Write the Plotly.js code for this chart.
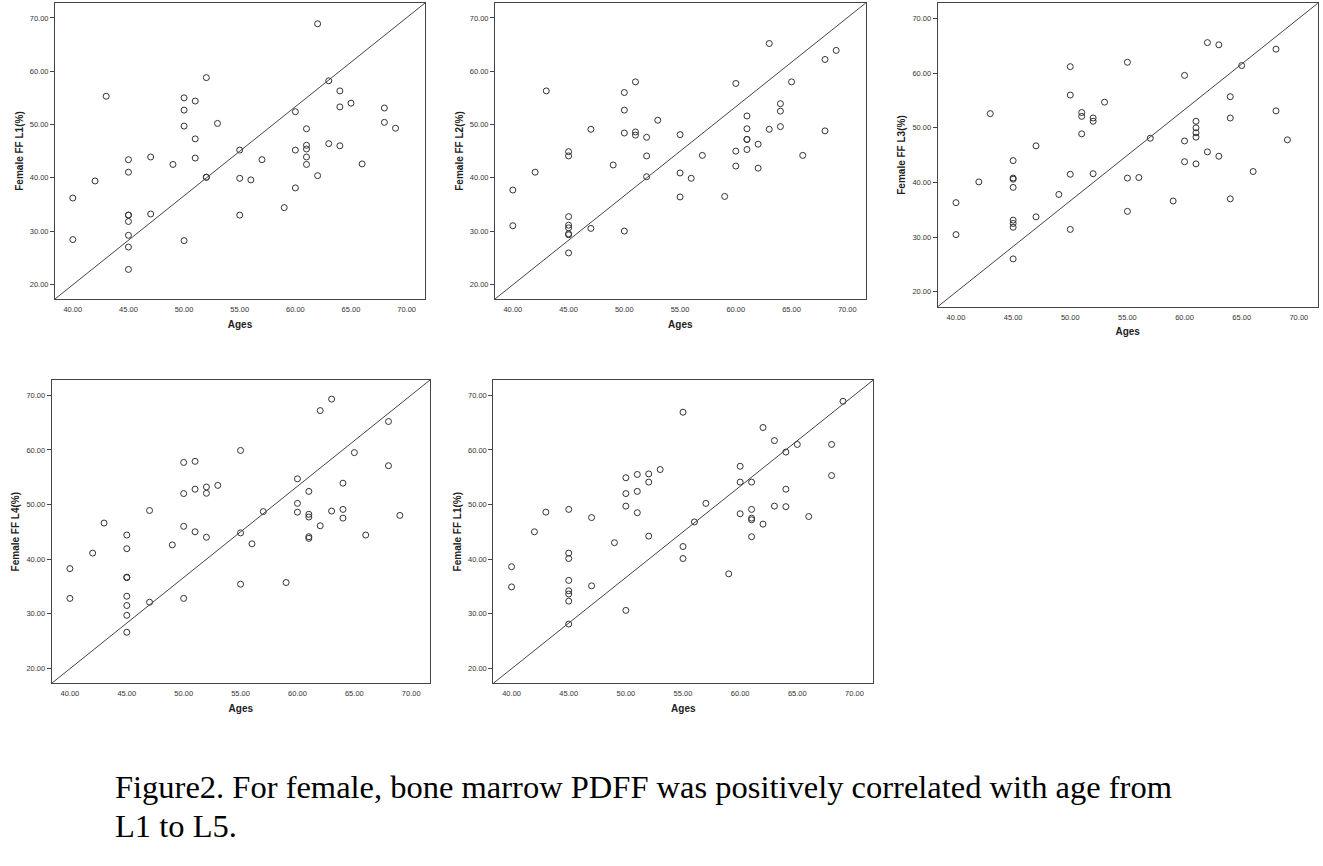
<!DOCTYPE html>
<html>
<head>
<meta charset="utf-8">
<script src="https://cdn.plot.ly/plotly-3.0.1.min.js"></script>
<style>
  html, body { margin: 0; padding: 0; background: #fff; }
  #chart { width: 1323px; height: 866px; }
</style>
</head>
<body>
<div id="chart"></div>
<script>
// ---- Data ----
var panelTitles = ["Female FF L1(%)", "Female FF L2(%)", "Female FF L3(%)", "Female FF L4(%)", "Female FF L1(%)"];
var xTitle = "Ages";
var xTicks = [40, 45, 50, 55, 60, 65, 70];
var yTicks = [20, 30, 40, 50, 60, 70];

var agesA = [40,40,42,43,45,45,45,45,45,45,45,45,47,47,49,50,50,50,50,51,51,51,52,52,52,53,55,55,55,56,57,59,60,60,60,61,61,61,61,61,62,62,63,63,64,64,64,65,66,68,68,69];
var ffA   = [36.2,28.4,39.4,55.3,43.4,41.05,33.0,33.0,31.8,29.2,27.0,22.8,43.9,33.2,42.5,55.0,52.7,49.7,28.2,54.4,47.3,43.7,58.8,40.1,40.1,50.2,45.2,39.9,33.0,39.6,43.4,34.4,52.4,45.2,38.1,49.2,46.1,45.4,43.9,42.5,68.9,40.4,58.2,46.4,56.3,53.3,46.0,54.0,42.6,53.1,50.4,49.3];

var agesB = [40,40,42,43,45,45,45,45,45,45,45,45,47,47,49,50,50,50,50,51,51,51,52,52,52,53,55,55,55,56,57,59,60,60,60,61,61,61,61,61,62,62,63,63,64,64,64,65,66,68,68,69];
var ffB   = [37.7,31.0,41.05,56.3,44.9,44.1,32.7,31.1,30.6,29.5,29.3,25.9,49.1,30.5,42.4,56.0,52.7,48.4,30.0,58.0,48.6,48.0,47.6,44.1,40.2,50.8,48.1,40.9,36.4,39.9,44.2,36.5,57.7,45.0,42.2,51.6,49.2,47.2,47.2,45.3,46.3,41.8,65.2,49.1,53.9,52.5,49.6,58.0,44.2,62.2,48.8,63.9];

var agesC = [40,40,42,43,45,45,45,45,45,45,45,45,47,47,49,50,50,50,50,51,51,51,52,52,52,53,55,55,55,56,57,59,60,60,60,61,61,61,61,61,62,62,63,63,64,64,64,65,66,68,68,69];
var ffC   = [36.3,30.45,40.1,52.6,44.0,40.8,40.6,39.1,33.1,32.5,31.8,26.0,46.7,33.7,37.8,61.2,56.0,41.5,31.4,52.8,52.1,48.9,51.8,51.2,41.6,54.7,62.0,40.8,34.7,40.9,48.1,36.6,59.6,47.6,43.8,51.2,50.0,49.1,48.3,43.4,65.6,45.6,65.2,44.8,55.7,51.8,37.0,61.4,42.0,64.4,53.1,47.8];

var agesD = [40,40,42,43,45,45,45,45,45,45,45,45,47,47,49,50,50,50,50,51,51,51,52,52,52,53,55,55,55,56,57,59,60,60,60,61,61,61,61,61,62,62,63,63,64,64,64,65,66,68,68,69];
var ffD   = [38.25,32.8,41.1,46.6,44.4,41.9,36.7,36.6,33.2,31.5,29.7,26.6,48.9,32.1,42.6,57.7,52.0,46.0,32.8,57.9,52.8,45.0,53.2,52.05,44.0,53.5,59.9,44.8,35.4,42.8,48.7,35.7,54.7,50.2,48.6,52.4,48.2,47.7,44.1,43.8,67.2,46.1,69.3,48.8,53.9,49.1,47.5,59.5,44.4,65.2,57.1,48.0];

var agesE = [40,40,42,43,45,45,45,45,45,45,45,45,47,47,49,50,50,50,50,51,51,51,52,52,52,53,55,55,55,56,57,59,60,60,60,61,61,61,61,61,62,62,63,63,64,64,64,65,66,68,68,69];
var ffE   = [38.6,34.9,45.0,48.6,49.1,41.1,40.1,36.1,34.2,33.6,32.3,28.1,47.6,35.1,43.0,54.9,52.0,49.7,30.6,55.5,52.4,48.5,55.6,54.1,44.2,56.4,66.9,42.3,40.1,46.8,50.2,37.3,57.0,54.1,48.3,54.1,49.1,47.5,47.2,44.1,64.1,46.4,61.7,49.7,59.6,52.8,49.6,61.0,47.8,61.0,55.3,68.9];

var captionLine1 = "Figure2. For female, bone marrow PDFF was positively correlated with age from";
var captionLine2 = "L1 to L5.";

// ---- Layout geometry (pixels of the 1323x866 page) ----
var W = 1323, H = 866;
var boxes = [
  {l: 55,    r: 425,   t: 3,   b: 299},
  {l: 495,   r: 865.7, t: 3,   b: 299},
  {l: 937.7, r: 1317.7,t: 3.3, b: 306.7},
  {l: 51.7,  r: 430,   t: 380, b: 683.3},
  {l: 493.3, r: 873.3, t: 380, b: 683.3}
];
var xs = [agesA, agesB, agesC, agesD, agesE];
var ys = [ffA, ffB, ffC, ffD, ffE];

var xRange = [38.4, 71.65];
var yRange = [17.25, 72.8];
var ink = '#333333';

var traces = [];
var layout = {
  width: W, height: H,
  margin: {l: 0, r: 0, t: 0, b: 0},
  paper_bgcolor: '#ffffff',
  plot_bgcolor: '#ffffff',
  showlegend: false,
  font: {family: 'Liberation Sans, Arial, sans-serif', color: ink},
  shapes: [],
  annotations: []
};

for (var i = 0; i < 5; i++) {
  var sfx = i === 0 ? '' : String(i + 1);
  var bx = boxes[i];
  traces.push({
    type: 'scatter', mode: 'markers',
    x: xs[i], y: ys[i],
    xaxis: 'x' + sfx, yaxis: 'y' + sfx,
    marker: {symbol: 'circle-open', size: 6, color: ink, line: {width: 1, color: ink}},
    hoverinfo: 'x+y'
  });
  layout['xaxis' + sfx] = {
    domain: [bx.l / W, bx.r / W],
    anchor: 'y' + sfx,
    range: xRange,
    tickvals: xTicks,
    tickformat: '.2f',
    ticks: 'outside', ticklen: 3, tickcolor: 'rgba(0,0,0,0)',
    tickfont: {size: 7.5, color: ink, family: 'Liberation Sans, Arial, sans-serif'},
    showgrid: false, zeroline: false,
    showline: true, mirror: true, linecolor: '#444', linewidth: 1,
    title: {text: '<b>' + xTitle + '</b>', font: {size: 10, color: '#222'}, standoff: 7},
    automargin: false
  };
  layout['yaxis' + sfx] = {
    domain: [1 - bx.b / H, 1 - bx.t / H],
    anchor: 'x' + sfx,
    range: yRange,
    tickvals: yTicks,
    tickformat: '.2f',
    ticks: 'outside', ticklen: 4, tickcolor: '#444',
    tickfont: {size: 7.5, color: ink, family: 'Liberation Sans, Arial, sans-serif'},
    showgrid: false, zeroline: false,
    showline: true, mirror: true, linecolor: '#444', linewidth: 1,
    title: {text: '<b>' + panelTitles[i] + '</b>', font: {size: 10, color: '#222'}, standoff: 4},
    automargin: false
  };
  layout.shapes.push({
    type: 'line', xref: 'x' + sfx + ' domain', yref: 'y' + sfx + ' domain',
    x0: 0, y0: 0, x1: 1, y1: 1,
    line: {color: '#444', width: 1}
  });
}

layout.annotations.push({
  xref: 'paper', yref: 'paper', x: 113 / W, y: 1 - 806.5 / H,
  xanchor: 'left', yanchor: 'bottom', showarrow: false,
  text: captionLine1,
  font: {family: 'Liberation Serif, Times New Roman, serif', size: 32.5, color: '#000'}
});
layout.annotations.push({
  xref: 'paper', yref: 'paper', x: 113 / W, y: 1 - 845.5 / H,
  xanchor: 'left', yanchor: 'bottom', showarrow: false,
  text: captionLine2,
  font: {family: 'Liberation Serif, Times New Roman, serif', size: 32.5, color: '#000'}
});

Plotly.newPlot('chart', traces, layout, {displayModeBar: false, staticPlot: false});
</script>
</body>
</html>
